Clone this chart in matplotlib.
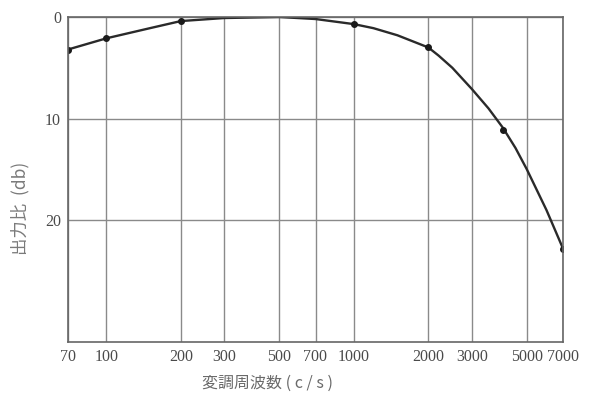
import matplotlib
matplotlib.use("Agg")
import matplotlib.pyplot as plt

# frequency response
freq = [70, 100, 150, 200, 300, 500, 700, 1000, 1200, 1500, 2000, 2200,
        2500, 3000, 3500, 4000, 4500, 5000, 6000, 6300, 7000]
loss_db = [3.2, 2.1, 1.1, 0.4, 0.1, 0.0, 0.2, 0.7, 1.1, 1.8, 3.0, 3.8,
           5.0, 7.1, 9.0, 10.9, 12.9, 15.0, 19.0, 20.2, 22.8]

# measured points drawn as dots
dot_freq = [70, 100, 200, 1000, 2000, 4000, 7000]
dot_db = [3.2, 2.1, 0.4, 0.7, 3.0, 11.1, 22.8]

x_ticks = [70, 100, 200, 300, 500, 700, 1000, 2000, 3000, 5000, 7000]
y_ticks = [0, 10, 20]

plt.rcParams["font.family"] = ["Liberation Serif", "Noto Sans CJK JP"]

fig = plt.figure(figsize=(5.92, 3.97), dpi=100)
ax = fig.add_axes([68 / 592, 1 - 342 / 397, 495 / 592, 325 / 397])

ax.set_xscale("log")
ax.set_xlim(70, 7000)
ax.set_ylim(32, 0)

ax.set_xticks(x_ticks)
ax.set_xticklabels([str(t) for t in x_ticks])
ax.minorticks_off()
ax.set_yticks(y_ticks)
ax.tick_params(length=0, labelsize=11.5, colors="#4a4a4a", pad=5)

ax.grid(True, color="#8a8a8a", linewidth=1.0)
for s in ax.spines.values():
    s.set_color("#666666")
    s.set_linewidth(1.2)

ax.plot(freq, loss_db, color="#2a2a2a", linewidth=1.7)
ax.plot(dot_freq, dot_db, "o", color="#1a1a1a", markersize=4)

fig.text(20 / 592, 1 - 208 / 397, "出力比  (db)", rotation=90, ha="center", va="center",
         fontsize=12.5, color="#7a7a7a", family=["Noto Sans CJK JP", "DejaVu Sans"])
fig.text(202 / 592, 1 - 383 / 397, "変調周波数 ( c / s )", ha="left", va="center",
         fontsize=11.5, color="#6a6a6a", family=["Noto Sans CJK JP", "DejaVu Sans"])

fig.savefig("out.png", dpi=100)
